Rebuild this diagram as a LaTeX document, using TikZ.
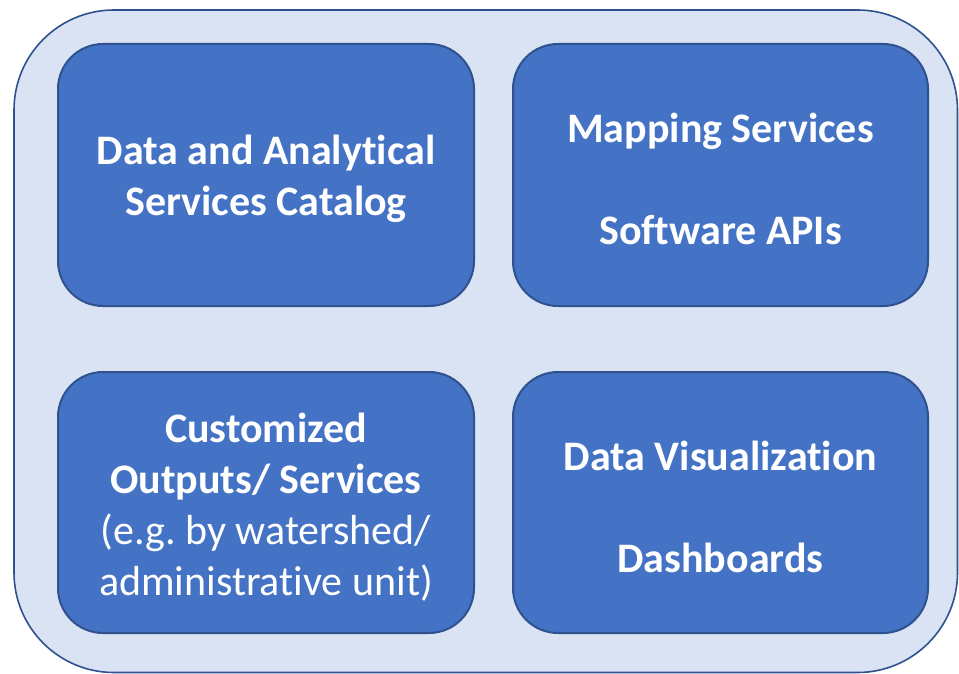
\documentclass[tikz,border=0pt]{standalone}
\usepackage{fontspec}
\setmainfont[Ligatures={NoCommon}]{Carlito}
\frenchspacing
\begin{document}
\begin{tikzpicture}[x=1pt,y=-1pt,
  outerbox/.style={draw=borderblue, fill=lightblue, line width=1.6pt, rounded corners=100pt},
  innerbox/.style={draw=borderblue, fill=midblue, line width=2pt, rounded corners=45pt},
  label/.style={text=white, align=center, font=\fontsize{42}{51}\selectfont\bfseries}
]
\definecolor{borderblue}{HTML}{2F528F}
\definecolor{midblue}{HTML}{4472C4}
\definecolor{lightblue}{HTML}{DAE3F3}
\useasboundingbox (0,0) rectangle (959,674);
\draw[outerbox] (14,10) rectangle (957.5,672.5);
\draw[innerbox] (58,44) rectangle (474,306);
\draw[innerbox] (513,44) rectangle (928,306);
\draw[innerbox] (58,372) rectangle (474,633);
\draw[innerbox] (513,372) rectangle (928,633);
\node[label] (a) at (266,179) {Data and Analytical\\Services Catalog};
\node[label] (b) at (720.5,179) {Mapping Services\\[51pt]Software APIs};
\node[label] (c) at (266,507) {Customized\\Outputs/ Services\\{\mdseries (e.g. by watershed/}\\{\mdseries administrative unit)}};
\node[label] (d) at (720.5,507) {Data Visualization\\[51pt]Dashboards};
\end{tikzpicture}
\end{document}
